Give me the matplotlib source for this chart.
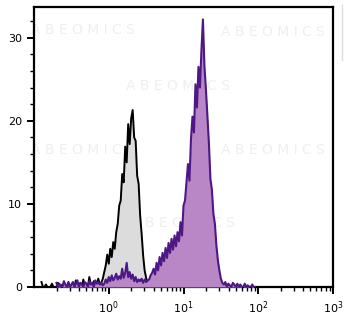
import numpy as np
import matplotlib.pyplot as plt
from matplotlib.lines import Line2D
from matplotlib.ticker import LogLocator, MultipleLocator

# histogram channels: log10 channel centres, spacing 0.02 decade
bin_width = 0.02

# isotype control (grey)
ctrl_start = -0.90
ctrl_counts = [
    0.6, 0, 0, 0.3, 0, 0, 0, 0.4, 0, 0,
    0, 0.5, 0, 0, 0.3, 0, 0, 0, 0.6, 0,
    0, 0.4, 0, 0.8, 0, 0, 0.5, 0, 0.9, 0,
    0.4, 0, 1.2, 0.3, 0, 0.7, 0, 0.4, 1.0, 0.3,
    0.5, 1.0, 1.8, 2.6, 3.9, 2.8, 4.6, 3.6, 5.4, 4.6,
    6.6, 7.6, 9.8, 10.4, 13.6, 12.6, 16.9, 15.0, 19.6, 17.2,
    20.3, 21.3, 18.0, 17.6, 13.4, 12.4, 8.6, 6.4, 3.8, 2.0,
    1.1, 0.4, 0.0,
]

# stained sample (purple)
stain_start = -0.70
stain_counts = [
    0.5, 0, 0.4, 0, 0, 0.7, 0.3, 0, 0.5, 0,
    0.3, 0.6, 0, 0.4, 0.8, 0, 0.5, 0.3, 0, 0.6,
    0.4, 0, 0.7, 0.3, 0.5, 0, 0.8, 0.4, 0.6, 0.3,
    0.5, 0.2, 0.4, 0.9, 0.5, 1.2, 0.7, 1.4, 0.8, 1.1,
    1.6, 0.9, 1.3, 1.0, 2.2, 1.1, 1.7, 2.9, 1.2, 1.8,
    1.0, 1.5, 0.7, 1.2, 0.6, 0.9, 0.7, 1.0, 0.5, 0.9,
    0.6, 0.8, 0.9, 1.4, 1.7, 2.2, 1.5, 2.9, 2.0, 3.6,
    2.6, 4.1, 3.1, 4.7, 3.5, 5.3, 4.1, 5.8, 4.5, 6.2,
    4.9, 6.6, 5.5, 7.8, 6.2, 9.8, 10.4, 12.6, 14.8, 12.8,
    17.8, 20.5, 18.6, 24.4, 21.6, 26.5, 24.0, 28.5, 32.2, 26.6,
    23.8, 20.6, 17.3, 13.0, 11.7, 8.8, 7.6, 5.0, 3.2, 2.0,
    1.0, 0.5, 0.3, 0.6, 0, 0.4, 0.2, 0, 0.5, 0.3,
    0, 0.4, 0, 0.3, 0, 0, 0.4, 0, 0.2, 0,
    0, 0.3, 0, 0,
]

y_ticks = [0, 10, 20, 30]
watermark = "A B E O M I C S"


def channels(start, n):
    return 10 ** (start + bin_width * np.arange(n))


fig = plt.figure(figsize=(3.5, 3.21), dpi=100)
ax = fig.add_axes([34 / 350, 1 - 287 / 321, 299 / 350, 280 / 321])

cx = channels(ctrl_start, len(ctrl_counts))
sx = channels(stain_start, len(stain_counts))

ax.fill_between(cx, ctrl_counts, color="#dcdcdc", lw=0, zorder=2)
ax.plot(cx, ctrl_counts, color="black", lw=1.4, zorder=3)
ax.fill_between(sx, stain_counts, color="#b987c6", lw=0, zorder=4)
ax.plot(sx, stain_counts, color="#4d1786", lw=1.5, zorder=5)

ax.set_xscale("log")
ax.set_xlim(0.1, 1000)
ax.set_ylim(0, 33.7)
ax.set_xticks([1, 10, 100, 1000])
ax.xaxis.set_minor_locator(LogLocator(base=10, subs=np.arange(2, 10), numticks=20))
ax.set_yticks(y_ticks)
ax.yaxis.set_minor_locator(MultipleLocator(2))

ax.tick_params(which="major", direction="out", length=5, width=1.4, labelsize=8, colors="black")
ax.tick_params(which="minor", direction="out", length=3, width=1.0)
ax.tick_params(axis="x", pad=4)
for s in ax.spines.values():
    s.set_linewidth(1.6)

# faint watermarks, kept under the histograms
for (x, y) in [(83, 30), (178, 86), (83, 150), (273, 32), (273, 150), (183, 223)]:
    ax.text(x / 350, 1 - y / 321, watermark, fontsize=10, color="#efefef",
            ha="center", va="center", zorder=1, clip_on=False,
            transform=fig.transFigure)

# edge of neighbouring panel
fig.add_artist(Line2D([342 / 350, 342 / 350], [1 - 5 / 321, 1 - 60 / 321],
                      color="#dddddd", lw=1.0, transform=fig.transFigure))

fig.savefig("out.png", dpi=100)
